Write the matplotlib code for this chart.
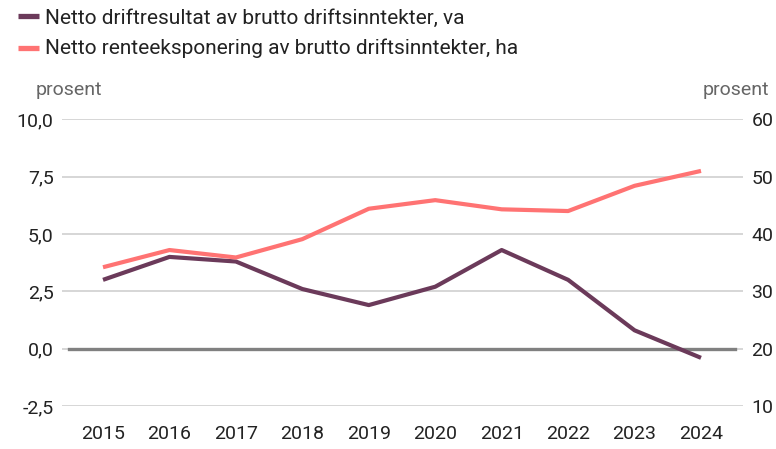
import matplotlib
matplotlib.use("Agg")
import matplotlib.pyplot as plt
from matplotlib.lines import Line2D

plt.rcParams['font.family'] = ['Roboto', 'DejaVu Sans']

years = [2015, 2016, 2017, 2018, 2019, 2020, 2021, 2022, 2023, 2024]
driftsresultat = [3.0, 4.0, 3.8, 2.6, 1.9, 2.7, 4.3, 3.0, 0.8, -0.4]
renteeksponering = [34.2, 37.2, 35.9, 39.1, 44.4, 45.9, 44.3, 44.0, 48.4, 51.0]
left_ticks = [-2.5, 0.0, 2.5, 5.0, 7.5, 10.0]
right_ticks = [10, 20, 30, 40, 50, 60]
label_a = "Netto driftresultat av brutto driftsinntekter, va"
label_b = "Netto renteeksponering av brutto driftsinntekter, ha"

c_purple = "#6b3a5a"
c_pink = "#ff7373"
c_grid = "#d3d3d3"
c_text = "#222222"

W, H = 776, 449
fig = plt.figure(figsize=(W/100, H/100), dpi=100)
ax = fig.add_axes([62/W, 1-406/H, (743-62)/W, (406-119.3)/H])
ax2 = ax.twinx()

ax.set_xlim(2015-0.617, 2024+0.632)
ax.set_ylim(-2.5, 10)
ax2.set_ylim(10, 60)

ax.set_yticks(left_ticks)
ax.set_yticklabels([f"{v:.1f}".replace(".", ",") for v in left_ticks])
ax2.set_yticks(right_ticks)
ax2.set_yticklabels([str(v) for v in right_ticks])
ax.set_xticks(years)
ax.set_xticklabels([str(y) for y in years])

for v in left_ticks:
    ax.axhline(v, color=c_grid, lw=1.3, zorder=0)
ax.axhline(0, xmin=7/681, xmax=(735-62)/681, color="#808080", lw=2.4, zorder=1)

ax.plot(years, driftsresultat, color=c_purple, lw=3, zorder=3, solid_capstyle='butt')
ax2.plot(years, renteeksponering, color=c_pink, lw=3, zorder=3, solid_capstyle='butt')

for a in (ax, ax2):
    for s in a.spines.values():
        s.set_visible(False)
    a.tick_params(length=0, labelsize=14, colors=c_text)
ax.tick_params(axis='y', pad=6)
ax2.tick_params(axis='y', pad=6)
ax.tick_params(axis='x', pad=14)

fig.text(36/W, 1-90/H, "prosent", fontsize=14, color="#666666", va='center', ha='left')
fig.text(769/W, 1-90/H, "prosent", fontsize=14, color="#666666", va='center', ha='right')

# legend drawn manually
for (yl, yb, col, lab) in [(16, 23.5, c_purple, label_a), (48.3, 54, c_pink, label_b)]:
    fig.add_artist(Line2D([18/W, 39/W], [1-yl/H, 1-yl/H], color=col, lw=3.8,
                          transform=fig.transFigure, solid_capstyle='butt'))
    fig.text(45/W, 1-yb/H, lab, fontsize=15, color=c_text, va='baseline', ha='left')

fig.savefig("out.png", dpi=100)
